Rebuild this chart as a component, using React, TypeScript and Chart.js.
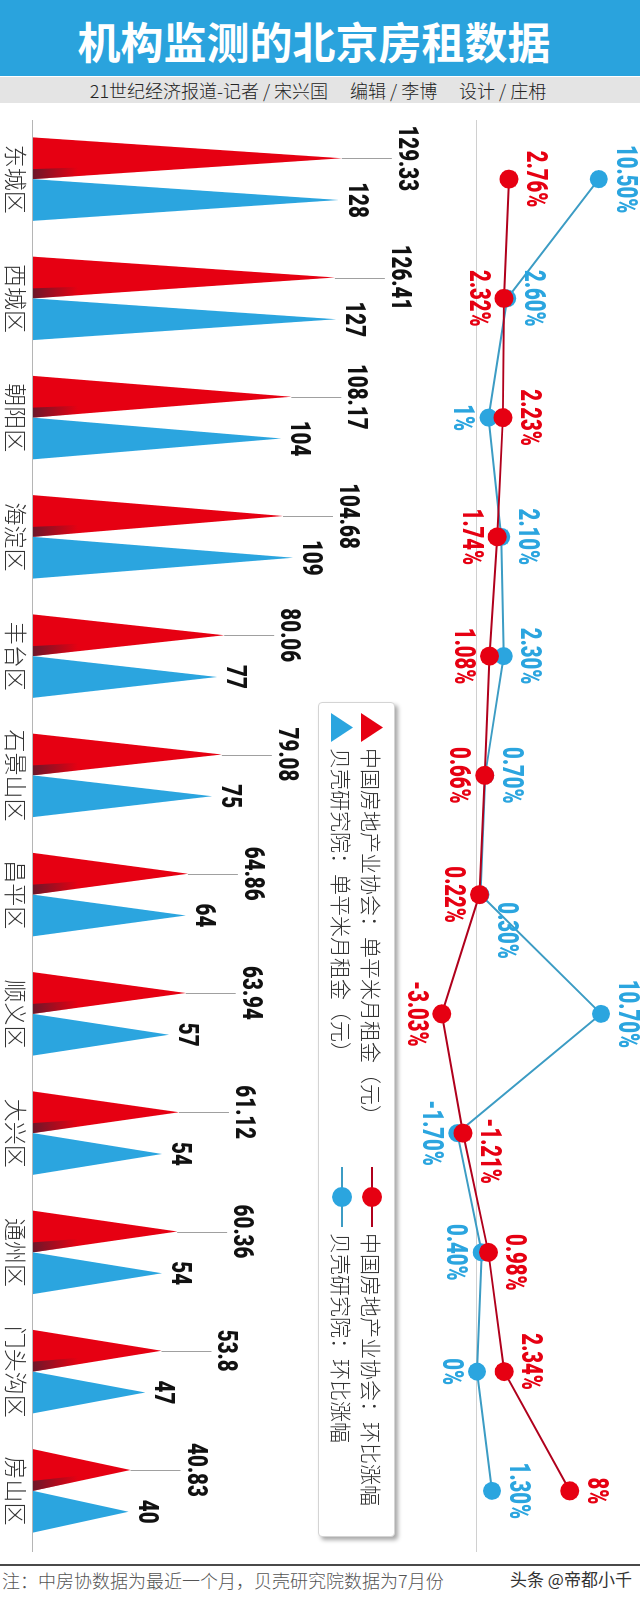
import React, { useEffect, useRef } from 'react';
import { Chart, registerables } from 'chart.js';

Chart.register(...registerables);

// ---------- data ----------
const districts = ['东城区', '西城区', '朝阳区', '海淀区', '丰台区', '石景山区', '昌平区', '顺义区', '大兴区', '通州区', '门头沟区', '房山区'];
const cridaRent = [129.33, 126.41, 108.17, 104.68, 80.06, 79.08, 64.86, 63.94, 61.12, 60.36, 53.8, 40.83];
const beikeRent = [128, 127, 104, 109, 77, 75, 64, 57, 54, 54, 47, 40];
const cridaChange = [2.76, 2.32, 2.23, 1.74, 1.08, 0.66, 0.22, -3.03, -1.21, 0.98, 2.34, 8];
const beikeChange = [10.5, 2.6, 1, 2.1, 2.3, 0.7, 0.3, 10.7, -1.7, 0.4, 0, 1.3];
const seriesNames = [
  '中国房地产业协会：单平米月租金（元）',
  '贝壳研究院：单平米月租金（元）',
  '中国房地产业协会：环比涨幅',
  '贝壳研究院：环比涨幅',
];
const titleText = '机构监测的北京房租数据';
const subtitleText = '21世纪经济报道-记者 / 宋兴国　 编辑 / 李博　 设计 / 庄枏';
const noteText = '注：中房协数据为最近一个月，贝壳研究院数据为7月份';
const markText = '头条 @帝都小千';

// ---------- label placement (layout only) ----------
// 1 = right of the dot (in the upright picture), -1 = left
const cridaLabelSide = [1, -1, 1, -1, -1, -1, -1, -1, 1, 1, 1, 1];
const cridaLabelShift = [0, 0, 0, 0, 0, 0, 0, 0, 18, 10, -10, 0];
const beikeLabelSide = [1, 1, -1, 1, 1, 1, 1, 1, -1, -1, -1, 1];
const beikeLabelShift = [0, 0, 0, 0, 0, 0, 36, 0, 0, 0, 0, 0];

// ---------- styles ----------
const RED = '#e60012';
const RED_LINE = '#b0001c';
const BLUE = '#2ba5df';
const BLUE_LINE = '#3c9cc4';
const BANNER = '#2aa3dd';
const CJK = '"Noto Sans CJK SC", "Noto Sans", sans-serif';
const NUM = 'Roboto, "Liberation Sans", sans-serif';

const PW = 640; // portrait width of rotated block
const PTOP = 110; // portrait top of rotated block
const PH = 1450; // portrait height of rotated block

function fmtPct(v: number) {
  return Number.isInteger(v) ? `${v}%` : `${v.toFixed(2)}%`;
}

function squeezeText(ctx: CanvasRenderingContext2D, text: string, x: number, y: number, sx: number) {
  ctx.save();
  ctx.translate(x, y);
  ctx.scale(sx, 1);
  ctx.fillText(text, 0, 0);
  ctx.restore();
}

const drawPlugin = {
  id: 'rentDecor',
  beforeDatasetsDraw(chart: any) {
    const ctx: CanvasRenderingContext2D = chart.ctx;
    const ys = chart.scales.y;
    const y2 = chart.scales.y2;
    ctx.save();
    // base axis line of the rent triangles
    const b = Math.round(ys.getPixelForValue(0)) + 0.5;
    ctx.strokeStyle = '#b5b5b5';
    ctx.lineWidth = 1;
    ctx.beginPath();
    ctx.moveTo(10, b);
    ctx.lineTo(1442, b);
    ctx.stroke();
    // zero line of percentage scale
    const z = Math.round(y2.getPixelForValue(0)) + 0.5;
    ctx.strokeStyle = '#d0d0d0';
    ctx.beginPath();
    ctx.moveTo(10, z);
    ctx.lineTo(1442, z);
    ctx.stroke();

    // triangles
    [2, 3].forEach((di) => {
      const meta = chart.getDatasetMeta(di);
      const color = di === 2 ? RED : BLUE;
      meta.data.forEach((bar: any) => {
        const { x, y, base, width } = bar;
        ctx.fillStyle = color;
        ctx.beginPath();
        ctx.moveTo(x - width / 2, base);
        ctx.lineTo(x + width / 2, base);
        ctx.lineTo(x, y);
        ctx.closePath();
        ctx.fill();
        if (di === 2) {
          const g = ctx.createLinearGradient(0, base, 0, base - 45);
          g.addColorStop(0, 'rgba(70,30,50,0.75)');
          g.addColorStop(1, 'rgba(70,30,50,0)');
          ctx.fillStyle = g;
          ctx.beginPath();
          ctx.moveTo(x + width / 2, base);
          ctx.lineTo(x + width / 2 - 10, base);
          ctx.lineTo(x, y);
          ctx.closePath();
          ctx.fill();
        }
      });
    });
    ctx.restore();
  },
  afterDatasetsDraw(chart: any) {
    const ctx: CanvasRenderingContext2D = chart.ctx;
    const xs = chart.scales.x;
    ctx.save();
    // rent value labels
    ctx.textAlign = 'center';
    ctx.textBaseline = 'alphabetic';
    ctx.font = `900 27px ${NUM}`;
    const redMeta = chart.getDatasetMeta(2);
    redMeta.data.forEach((bar: any, i: number) => {
      const lx = Math.round(bar.x) + 0.5;
      ctx.strokeStyle = '#a0a0a0';
      ctx.lineWidth = 1;
      ctx.beginPath();
      ctx.moveTo(lx, bar.y);
      ctx.lineTo(lx, bar.y - 50);
      ctx.stroke();
      ctx.fillStyle = '#111';
      squeezeText(ctx, String(cridaRent[i]), bar.x, bar.y - 57, 0.76);
    });
    const blueMeta = chart.getDatasetMeta(3);
    blueMeta.data.forEach((bar: any, i: number) => {
      ctx.fillStyle = '#111';
      squeezeText(ctx, String(beikeRent[i]), bar.x, bar.y - 10, 0.76);
    });

    // percentage labels
    ctx.font = `900 29px ${NUM}`;
    ctx.textBaseline = 'middle';
    const pct = (di: number, vals: number[], side: number[], shift: number[], color: string) => {
      const meta = chart.getDatasetMeta(di);
      ctx.fillStyle = color;
      meta.data.forEach((pt: any, i: number) => {
        squeezeText(ctx, fmtPct(vals[i]), pt.x + shift[i], pt.y - side[i] * 26 + 1, 0.7);
      });
    };
    pct(1, beikeChange, beikeLabelSide, beikeLabelShift, BLUE);
    pct(0, cridaChange, cridaLabelSide, cridaLabelShift, RED);

    // district labels
    ctx.font = `300 23px ${CJK}`;
    ctx.fillStyle = '#333';
    ctx.textBaseline = 'middle';
    districts.forEach((d, i) => {
      ctx.fillText(d, xs.getPixelForValue(i), 624);
    });
    ctx.restore();
  },
};

function LegendMarkerTri({ color }: { color: string }) {
  return (
    <svg width={29} height={22} style={{ display: 'block' }}>
      <polygon points="0,22 29,22 14.5,0" fill={color} />
    </svg>
  );
}

function LegendMarkerLine({ color, line }: { color: string; line: string }) {
  return (
    <svg width={60} height={22} style={{ display: 'block' }}>
      <line x1={0} y1={11} x2={60} y2={11} stroke={line} strokeWidth={2} />
      <circle cx={30} cy={11} r={10} fill={color} />
    </svg>
  );
}

export default function App() {
  const ref = useRef<HTMLCanvasElement>(null);

  useEffect(() => {
    const chart = new Chart(ref.current as HTMLCanvasElement, {
      type: 'bar',
      data: {
        labels: districts,
        datasets: [
          {
            type: 'line',
            label: seriesNames[2],
            data: cridaChange,
            yAxisID: 'y2',
            borderColor: RED_LINE,
            borderWidth: 2,
            pointRadius: 9.5,
            pointHoverRadius: 9.5,
            pointBackgroundColor: RED,
            pointBorderWidth: 0,
            tension: 0,
            fill: false,
            clip: false,
          } as any,
          {
            type: 'line',
            label: seriesNames[3],
            data: beikeChange,
            yAxisID: 'y2',
            borderColor: BLUE_LINE,
            borderWidth: 2,
            pointRadius: 9,
            pointHoverRadius: 9,
            pointBackgroundColor: BLUE,
            pointBorderWidth: 0,
            tension: 0,
            fill: false,
            clip: false,
          } as any,
          {
            type: 'bar',
            label: seriesNames[0],
            data: cridaRent,
            yAxisID: 'y',
            backgroundColor: 'rgba(0,0,0,0)',
            categoryPercentage: 0.7,
            barPercentage: 1,
          } as any,
          {
            type: 'bar',
            label: seriesNames[1],
            data: beikeRent,
            yAxisID: 'y',
            backgroundColor: 'rgba(0,0,0,0)',
            categoryPercentage: 0.7,
            barPercentage: 1,
          } as any,
        ],
      },
      options: {
        responsive: false,
        animation: false,
        devicePixelRatio: 1,
        events: [],
        layout: { padding: { left: 9, right: 1, top: 10, bottom: 33 } },
        plugins: { legend: { display: false }, tooltip: { enabled: false }, title: { display: false } },
        scales: {
          x: { display: false, offset: true },
          y: { display: false, min: 0, max: 250 },
          y2: { display: false, min: -38.28, max: 13.19, position: 'right' },
        },
      } as any,
      plugins: [drawPlugin as any],
    });
    return () => chart.destroy();
  }, []);

  const legendText: React.CSSProperties = {
    position: 'absolute',
    fontFamily: CJK,
    fontSize: 21,
    fontWeight: 300,
    lineHeight: '30px',
    color: '#333',
    whiteSpace: 'nowrap',
  };

  return (
    <div style={{ position: 'absolute', left: 0, top: 0, width: 640, height: 1599, overflow: 'hidden', background: '#fff' }}>
      {/* banner */}
      <div
        style={{
          position: 'absolute', left: 0, top: 0, width: 640, height: 76, background: BANNER,
          color: '#fff', fontFamily: CJK, fontWeight: 700, fontSize: 43, lineHeight: '80px',
          textAlign: 'center', boxSizing: 'border-box', paddingRight: 12, whiteSpace: 'nowrap',
        }}
      >
        {titleText}
      </div>
      <div
        style={{
          position: 'absolute', left: 0, top: 77, width: 640, height: 26, background: '#e4e4e4',
          color: '#222', fontFamily: CJK, fontSize: 18, fontWeight: 300, lineHeight: '27px', textAlign: 'center',
          boxSizing: 'border-box', paddingRight: 4, whiteSpace: 'pre',
        }}
      >
        {subtitleText}
      </div>

      {/* rotated chart block */}
      <div style={{ position: 'absolute', left: 0, top: PTOP, width: PW, height: PH }}>
        <div
          style={{
            position: 'absolute', left: 0, top: 0, width: PH, height: PW,
            transformOrigin: '0 0', transform: `translate(${PW}px, 0px) rotate(90deg)`,
          }}
        >
          <canvas ref={ref} width={PH} height={PW} style={{ display: 'block', width: PH, height: PW }} />
          {/* legend */}
          <div
            style={{
              position: 'absolute', left: 592, top: 245, width: 835, height: 77, boxSizing: 'border-box',
              background: '#fff', border: '1px solid #d4d4d4', borderRadius: 4,
              boxShadow: '3px -3px 4px rgba(0,0,0,0.35)',
            }}
          >
            <div style={{ position: 'absolute', left: 10, top: 11 }}><LegendMarkerTri color={RED} /></div>
            <div style={{ ...legendText, left: 45, top: 7 }}>{seriesNames[0]}</div>
            <div style={{ position: 'absolute', left: 464, top: 11 }}><LegendMarkerLine color={RED} line={RED_LINE} /></div>
            <div style={{ ...legendText, left: 530, top: 7 }}>{seriesNames[2]}</div>

            <div style={{ position: 'absolute', left: 10, top: 41 }}><LegendMarkerTri color={BLUE} /></div>
            <div style={{ ...legendText, left: 45, top: 37 }}>{seriesNames[1]}</div>
            <div style={{ position: 'absolute', left: 464, top: 41 }}><LegendMarkerLine color={BLUE} line={BLUE_LINE} /></div>
            <div style={{ ...legendText, left: 530, top: 37 }}>{seriesNames[3]}</div>
          </div>
        </div>
      </div>

      {/* footer */}
      <div style={{ position: 'absolute', left: 0, top: 1564, width: 640, height: 2, background: '#4a4a4a' }} />
      <div
        style={{
          position: 'absolute', left: 2, top: 1567, height: 26, lineHeight: '26px', fontFamily: CJK,
          fontSize: 18, fontWeight: 300, color: '#555', whiteSpace: 'nowrap',
        }}
      >
        {noteText}
      </div>
      <div
        style={{
          position: 'absolute', left: 510, top: 1567, height: 24, lineHeight: '24px', fontFamily: CJK,
          fontSize: 17, color: '#333', whiteSpace: 'nowrap',
        }}
      >
        {markText}
      </div>
    </div>
  );
}
